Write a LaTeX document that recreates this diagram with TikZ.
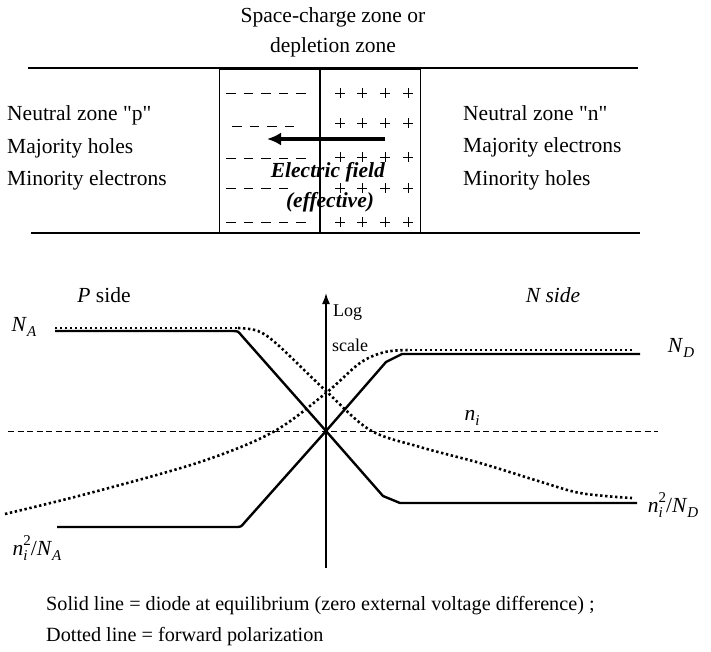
\documentclass[tikz,border=0pt]{standalone}
\usepackage{fontspec}
\setmainfont{Liberation Serif}
\usetikzlibrary{arrows.meta}
\newcommand{\scr}[1]{{\fontsize{15}{15}\selectfont #1}}
\newcommand{\sub}[1]{\raisebox{-0.22em}{\scr{\textit{#1}}}}
\newcommand{\subsup}[2]{\rlap{\raisebox{-0.22em}{\scr{\textit{#1}}}}\raisebox{0.48em}{\scr{#2}}}
\begin{document}
\begin{tikzpicture}[x=1pt,y=-1pt,
  txt/.style={inner sep=0pt,font=\fontsize{21.5}{25}\selectfont},
  legend/.style={inner sep=0pt,font=\fontsize{20.2}{24}\selectfont},
  small/.style={inner sep=0pt,font=\fontsize{18}{22}\selectfont},
  border/.style={line width=2.6pt},
  zone/.style={line width=0.9pt},
  chg/.style={line width=0.7pt},
  solidcurve/.style={line width=2.4pt,line join=round},
  dotcurve/.style={line width=2.6pt,dash pattern=on 2.4pt off 2.6pt},
  nidash/.style={line width=0.9pt,dash pattern=on 6pt off 3.5pt}]
\useasboundingbox (0,0) rectangle (711,651);

% --- top part ---
\node[txt] (t1) at (333,17) {Space-charge zone or};
\node[txt] (t2) at (333,47) {depletion zone};
\draw[border] (28,68) -- (638,68);
\draw[border] (31,233) -- (640,233);
\draw[zone] (219,69) rectangle (319,232);
\draw[zone] (320,69) rectangle (420,233);

% minus signs
\foreach \y/\xs/\n in {93/226/5,126/232/4,158/226/5,188/226/4,222/226/5}{
  \foreach \k in {1,...,\n}{
    \draw[chg] ({\xs+(\k-1)*17.6},\y) -- ++(9.5,0);
  }
}
% plus signs
\foreach \y in {93,123,157,188,222}{
  \foreach \x in {340,362,385,408}{
    \draw[chg] (\x-5,\y) -- (\x+5,\y) (\x,\y-5) -- (\x,\y+5);
  }
}
\coordinate (fs) at (385,139);
\coordinate (fe) at (267,139);
\draw[line width=4pt,-{Latex[length=14pt,width=13pt]}] (fs) -- (fe);
\node[txt] (ef1) at (328,172) {\textbf{\textit{Electric field}}};
\node[txt] (ef2) at (330,202) {\textbf{\textit{(effective)}}};

\node[txt,anchor=west] (p1) at (7,115) {Neutral zone \textquotedbl p\textquotedbl};
\node[txt,anchor=west] (p2) at (7,148) {Majority holes};
\node[txt,anchor=west] (p3) at (7,180) {Minority electrons};
\node[txt,anchor=west] (n1) at (463,113) {Neutral zone \textquotedbl n\textquotedbl};
\node[txt,anchor=west] (n2) at (463,147) {Majority electrons};
\node[txt,anchor=west] (n3) at (463,180) {Minority holes};

% --- graph ---
\coordinate (ab) at (326,568);
\coordinate (at) at (326,293);
\draw[line width=1.6pt,-{Latex[length=11pt,width=8pt]}] (ab) -- (at);
\node[small,anchor=west] (lg) at (333,313) {Log};
\node[small,anchor=west] (sc) at (332,345) {scale};
\draw[nidash] (8,431) -- (658,431);

\node[txt] (ps) at (104,295) {\textit{P} side};
\node[txt] (ns) at (553,295) {\textit{N side}};
\node[txt] (na) at (24,327) {\textit{N}\sub{A}};
\node[txt] (nd) at (681,348) {\textit{N}\sub{D}};
\node[txt] (ni) at (472,418) {\textit{n}\sub{i}};
\node[txt] (nina) at (37,548) {\textit{n}\subsup{i}{2}/\textit{N}\sub{A}};
\node[txt] (nind) at (673,505) {\textit{n}\subsup{i}{2}/\textit{N}\sub{D}};

% solid curves (equilibrium)
\draw[solidcurve] (55,331) -- (232,331) .. controls (238,331) .. (242,336)
  -- (326,431) -- (383,496) -- (400,503) -- (637,503);
\draw[solidcurve] (57,527) -- (235,527) .. controls (241,527) .. (245,522)
  -- (326,431) -- (386,362) -- (402,354) -- (640,354);

% dotted curves (forward)
\draw[dotcurve] (55,328) -- (238,328);
\draw[dotcurve] plot[smooth,tension=0.55] coordinates {(238,328) (258,331) (278,345) (326,391) (370,430) (420,447) (480,463) (535,480) (575,492) (605,496) (632,498)};
\draw[dotcurve] plot[smooth,tension=0.55] coordinates {(5,514) (90,493) (200,462) (273,432) (326,393) (360,363) (385,352) (410,350)};
\draw[dotcurve] (410,350) -- (633,350);

% bottom legend
\node[legend,anchor=west] (l1) at (46,606) {Solid line = diode at equilibrium (zero external voltage difference) ;};
\node[legend,anchor=west] (l2) at (46,637) {Dotted line = forward polarization};
\end{tikzpicture}
\end{document}
